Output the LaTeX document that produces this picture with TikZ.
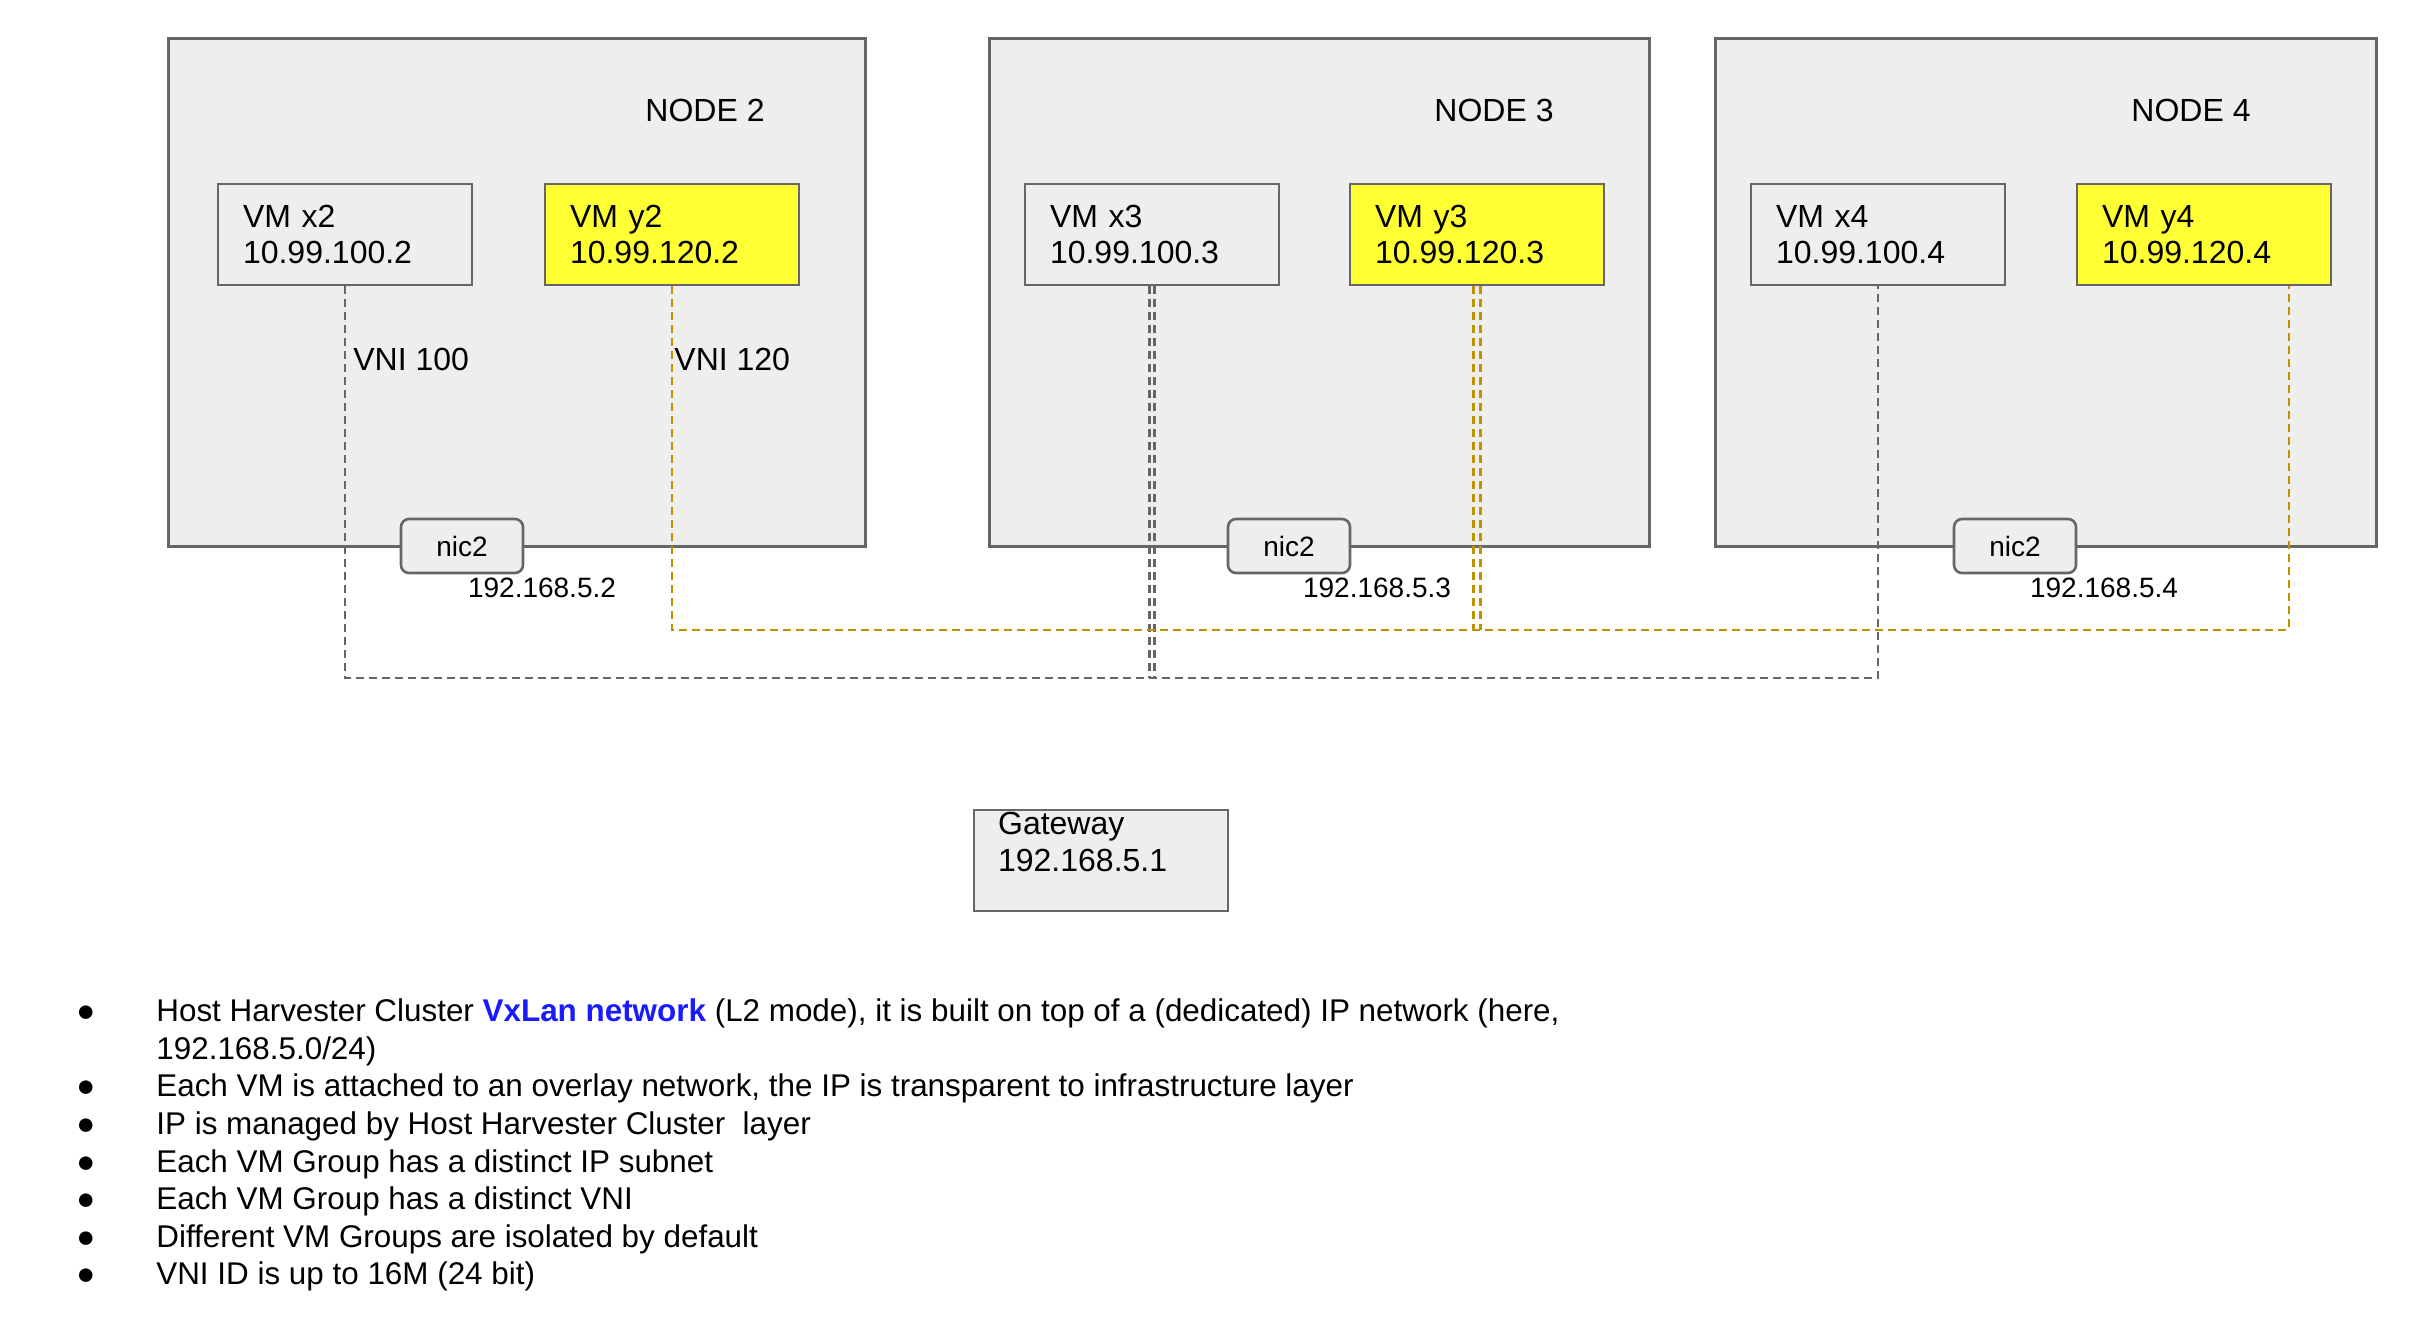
\documentclass[tikz,border=0pt]{standalone}
\usepackage{fontspec}
\setmainfont{Liberation Sans}
\usetikzlibrary{positioning,calc}
\definecolor{hostLine} {HTML}{666666}
\definecolor{hostFill} {HTML}{EEEEEE}
\definecolor{vmYellow} {HTML}{FFFF33}
\definecolor{vniGrey}  {HTML}{666666}
\definecolor{vniGold}  {HTML}{BF9000}
\definecolor{linkBlue} {HTML}{1A1AFF}
\newcommand{\noteDot}{●}
\tikzset{
  hostBox/.style={draw=hostLine,line width=1.3pt,fill=hostFill,anchor=north west,
    inner sep=0pt,minimum height=254pt},
  vmBox/.style={draw=hostLine,line width=1.3pt,fill=hostFill,align=left,inner xsep=12.5pt,
    inner ysep=0pt,text width=102pt,minimum height=50.5pt,font=\fontsize{16pt}{18pt}\selectfont},
  vmBoxY/.style={vmBox,fill=vmYellow},
  nicBox/.style={draw=hostLine,line width=1.3pt,fill=hostFill,rounded corners=4pt,
    minimum width=61pt,minimum height=27pt,inner sep=0pt,font=\fontsize{14pt}{16pt}\selectfont},
  hostLabel/.style={font=\fontsize{16pt}{18pt}\selectfont,inner sep=0pt},
  ipLabel/.style={font=\fontsize{14pt}{16pt}\selectfont,inner sep=0pt},
  vniA/.style={draw=vniGrey,line width=1.1pt,dash pattern=on 4pt off 2.5pt},
  vniB/.style={draw=vniGold,line width=1.1pt,dash pattern=on 4pt off 2.5pt},
}

\begin{document}
\begin{tikzpicture}[x=0.5pt,y=-0.5pt]
\useasboundingbox (0,0) rectangle (2428,1318);
\node[hostBox,minimum width=348.5pt] (host2) at (167,37) {};
\node[hostBox,minimum width=330pt] (host3) at (988,37) {};
\node[hostBox,minimum width=330.5pt] (host4) at (1714,37) {};
\node[hostLabel] (name2) at (705,110) {NODE 2};
\node[hostLabel] (name3) at (1494,110) {NODE 3};
\node[hostLabel] (name4) at (2191,110) {NODE 4};
\node[nicBox] (nic2) at (462,546) {nic2};
\node[nicBox] (nic3) at (1289,546) {nic2};
\node[nicBox] (nic4) at (2015,546) {nic2};
\node[ipLabel] (ip2) at (542,588) {192.168.5.2};
\node[ipLabel] (ip3) at (1377,588) {192.168.5.3};
\node[ipLabel] (ip4) at (2104,588) {192.168.5.4};
\node[vmBox] (x2) at (345,234.5) {VM x2\\10.99.100.2};
\node[vmBoxY] (y2) at (672,234.5) {VM y2\\10.99.120.2};
\node[vmBox] (x3) at (1152,234.5) {VM x3\\10.99.100.3};
\node[vmBoxY] (y3) at (1477,234.5) {VM y3\\10.99.120.3};
\node[vmBox] (x4) at (1878,234.5) {VM x4\\10.99.100.4};
\node[vmBoxY] (y4) at (2204,234.5) {VM y4\\10.99.120.4};
\node[hostLabel,anchor=west] (vni100) at (353,359) {VNI 100};
\node[hostLabel,anchor=west] (vni120) at (674,359) {VNI 120};
\coordinate (busA) at (0,678);
\coordinate (busB) at (0,630);
\coordinate (x3a) at ([xshift=-1.25pt]x3.south);
\coordinate (x3b) at ([xshift=1.25pt]x3.south);
\coordinate (y3a) at ([xshift=-1.75pt]y3.south);
\coordinate (y3b) at ([xshift=1.75pt]y3.south);
\coordinate (y4tap) at ($(y4.south west)!0.83!(y4.south east)$);
\draw[vniA] (x2.south) |- (x4.south |- busA) -- (x4.south);
\draw[vniA] (x3a) -- (x3a |- busA);
\draw[vniA] (x3b) -- (x3b |- busA);
\draw[vniB] (y2.south) |- (y4tap |- busB) -- (y4tap);
\draw[vniB] (y3a) -- (y3a |- busB);
\draw[vniB] (y3b) -- (y3b |- busB);
\node[vmBox,text width=102pt] (gw) at (1101,860.5) {};
\node[anchor=north west,inner sep=0pt,align=left,font=\fontsize{16pt}{18.5pt}\selectfont]
  (gwText) at ([xshift=12.5pt,yshift=-1.75pt]gw.north west) {Gateway\\192.168.5.1};
\node[anchor=north west,inner sep=0pt,font=\fontsize{15.7pt}{18.8pt}\selectfont] (notes) at (76,995) {%
  \begin{tabular}{@{}p{40pt}@{}l@{}}
  \noteDot & Host Harvester Cluster \textcolor{linkBlue}{\textbf{VxLan network}} (L2 mode), it is built on top of a (dedicated) IP network (here,\\
   & 192.168.5.0/24)\\
  \noteDot & Each VM is attached to an overlay network, the IP is transparent to infrastructure layer\\
  \noteDot & IP is managed by Host Harvester Cluster\ \ layer\\
  \noteDot & Each VM Group has a distinct IP subnet\\
  \noteDot & Each VM Group has a distinct VNI\\
  \noteDot & Different VM Groups are isolated by default\\
  \noteDot & VNI ID is up to 16M (24 bit)
  \end{tabular}};
\end{tikzpicture}
\end{document}
